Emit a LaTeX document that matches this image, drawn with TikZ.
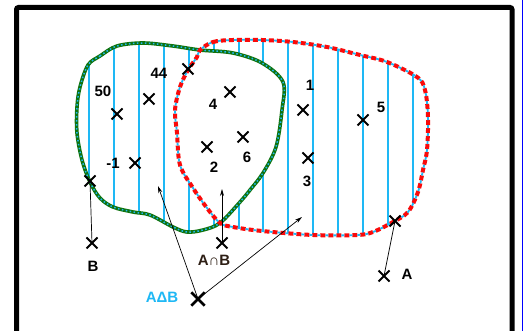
\documentclass[tikz,border=0pt]{standalone}
\usepackage{fontspec}
\setmainfont{Liberation Sans}
\usetikzlibrary{shapes.misc,arrows.meta}
\definecolor{hatchblue}{RGB}{30,184,245}
\definecolor{bgreen}{RGB}{15,115,15}
\definecolor{ared}{RGB}{250,10,10}
\definecolor{darkbr}{RGB}{45,30,20}
\tikzset{
  pathB/.style={insert path={plot[smooth cycle,tension=0.55] coordinates{
    (88,65) (100,56) (117,46) (143,43) (173,46) (200,50) (233,53) (262,63) (283,82)
    (282,110) (276,147) (263,173) (250,190) (240,202) (220,223) (203,230) (187,232)
    (173,227) (150,215) (133,212) (113,207) (100,198) (90,182) (82,160) (77,133)
    (77,107) (80,87)}}},
  pathA/.style={insert path={plot[smooth cycle,tension=0.55] coordinates{
    (200,50) (213,42) (233,40) (262,40) (293,42) (327,47) (360,55) (387,62) (417,77)
    (425,90) (428,117) (427,150) (423,170) (418,192) (408,212) (393,222) (373,232)
    (357,235) (313,235) (262,231) (233,227) (220,223) (207,208) (193,188) (180,165)
    (177,133) (175,110) (180,87) (188,70) (197,57)}}},
  hatch/.style={draw=hatchblue, line width=2pt},
  xmark/.style={cross out, draw=black, line width=2pt, minimum size=9pt, inner sep=0pt},
  bigx/.style={cross out, draw=black, line width=2.8pt, minimum size=10.5pt, inner sep=0pt},
  lbl/.style={font=\fontsize{15}{15}\selectfont\bfseries, inner sep=0pt},
  arr/.style={draw=black, line width=0.7pt, -{Stealth[length=7pt,width=4pt]}},
  link/.style={draw=black, line width=0.7pt},
}
\begin{document}
\begin{tikzpicture}[x=1pt,y=-1pt]
\useasboundingbox (0,0) rectangle (523,331);
\fill[white] (0,0) rectangle (523,331);
% frame
\draw[line width=5pt, rounded corners=2pt] (16.5,345) -- (16.5,7.5) -- (512,7.5) -- (512,345);
\draw[blue, line width=0.8pt] (522.3,0) -- (522.3,331);
% hatching in B and in A
\begin{scope}
  \clip[pathB];
  \foreach \k in {0,...,13} \draw[hatch] ({89+24.92*\k},20) -- ({89+24.92*\k},260);
\end{scope}
\begin{scope}
  \clip[pathA];
  \foreach \k in {0,...,13} \draw[hatch] ({89+24.92*\k},20) -- ({89+24.92*\k},260);
\end{scope}
% clear the intersection
\begin{scope}
  \clip[pathA];
  \fill[white, pathB];
\end{scope}
% boundaries
\draw[bgreen, line width=3.6pt, pathB];
\draw[hatchblue, line width=1.5pt, dash pattern=on 1.5pt off 2.5pt, pathB];
\draw[ared, line width=4pt, dash pattern=on 5pt off 3pt, pathA];
\draw[hatchblue, line width=1.8pt, dash pattern=on 3pt off 5pt, dash phase=3pt, pathA];
% crosses
\node[xmark] (x50) at (117,114) {};
\node[xmark] (x44) at (149,99) {};
\node[xmark] (xtop) at (188,69) {};
\node[xmark] (x4) at (230,92) {};
\node[xmark] (x2) at (207,147) {};
\node[xmark] (x6) at (243,137) {};
\node[xmark] (xm1) at (135,163) {};
\node[xmark] (x1) at (303,110) {};
\node[xmark] (x5) at (363,120) {};
\node[xmark] (x3) at (308,158) {};
\node[xmark] (bu) at (90,181) {};
\node[xmark] (bl) at (92,243) {};
\node[xmark] (ai) at (222,243) {};
\node[bigx] (dab) at (198,299) {};
\node[xmark] (au) at (395,221) {};
\node[xmark] (al) at (384,276) {};
% labels
\node[lbl] (l50) at (103,91) {50};
\node[lbl] (l44) at (159,73) {44};
\node[lbl] (l4) at (213,104) {4};
\node[lbl] (l6) at (247,157) {6};
\node[lbl] (l2) at (214,167) {2};
\node[lbl] (lm1) at (113,163) {-1};
\node[lbl] (l1) at (310,85) {1};
\node[lbl] (l5) at (381,107) {5};
\node[lbl] (l3) at (307,181) {3};
\node[lbl] (lB) at (93,266) {B};
\node[lbl] (lA) at (407,274) {A};
\node[lbl, text=darkbr] (lAB) at (214,260) {A∩B};
\node[lbl, text=hatchblue] (lDAB) at (162,297) {AΔB};
% connectors
\coordinate (tipL) at (158,186);
\coordinate (tipR) at (302,217);
\coordinate (tipI) at (222,189);
\draw[link] (bl.center) -- (bu.center);
\draw[link] (al.center) -- (au.center);
\draw[arr] (ai.center) -- (tipI);
\draw[arr] (dab.center) -- (tipL);
\draw[arr] (dab.center) -- (tipR);
\end{tikzpicture}
\end{document}
